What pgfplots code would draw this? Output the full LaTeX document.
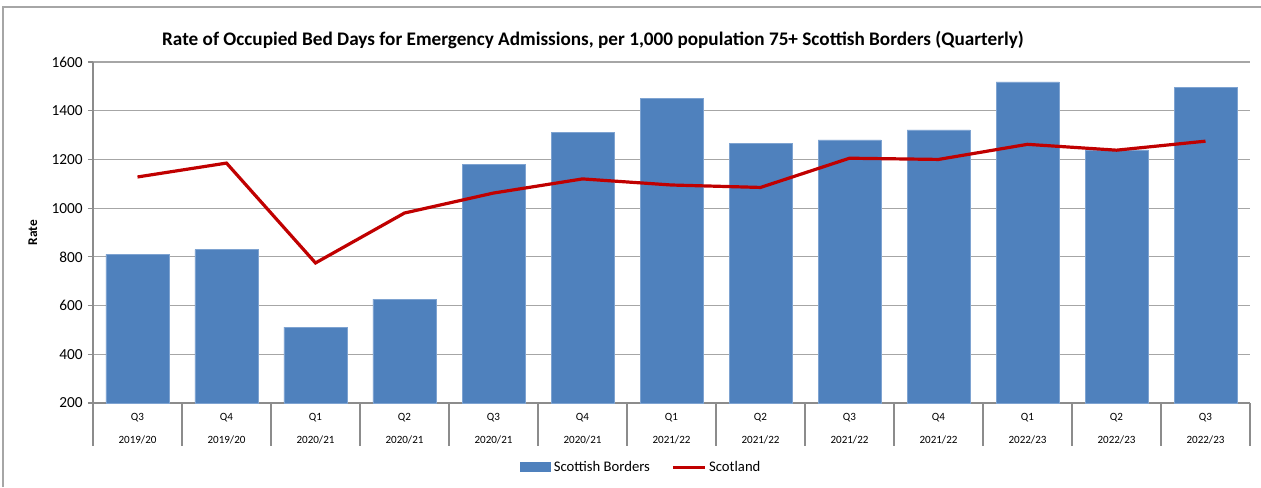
\documentclass[border=0pt]{standalone}
\usepackage{fontspec}
\setmainfont{Carlito}
\usepackage{pgfplots}
\pgfplotsset{compat=1.18}
\definecolor{sbblue}{HTML}{4F81BD}
\definecolor{sbedge}{HTML}{7EA3D1}
\definecolor{scred}{HTML}{C00000}
\definecolor{gridgray}{HTML}{A6A6A6}
\definecolor{axgray}{HTML}{8C8C8C}

\begin{document}
\begin{tikzpicture}
% whole chart area, 1px = 0.75pt, origin at lower left of the plot box
\path[use as bounding box] (-69.75pt,-63pt) rectangle (876pt,302.25pt);
\draw[gridgray, line width=0.9pt] (-67.5pt,-63pt) -- (-67.5pt,297pt) -- (876pt,297pt);

\begin{axis}[
  at={(0,0)}, anchor=south west,
  scale only axis,
  width=867.75pt, height=255.75pt,
  xmin=-0.5, xmax=12.5,
  ymin=200, ymax=1600,
  ytick={200,400,...,1600},
  % ticks sit on the category borders, labels are moved to the centres
  xtick={-0.5,0.5,...,12.5},
  xticklabels={Q3\\2019/20, Q4\\2019/20, Q1\\2020/21, Q2\\2020/21, Q3\\2020/21,
    Q4\\2020/21, Q1\\2021/22, Q2\\2021/22, Q3\\2021/22, Q4\\2021/22,
    Q1\\2022/23, Q2\\2022/23, Q3\\2022/23, {}},
  xticklabel style={align=center, font=\fontsize{8.3}{17.25}\selectfont, xshift=33.375pt},
  tick align=outside,
  x tick style={draw=axgray, line width=0.9pt, /pgfplots/major tick length=32pt},
  y tick style={draw=axgray, line width=0.9pt, /pgfplots/major tick length=3.75pt},
  yticklabel style={font=\fontsize{11.5}{13}\selectfont},
  /pgf/number format/assume math mode=true,
  /pgf/number format/1000 sep={},
  ymajorgrids,
  grid style={gridgray, line width=0.9pt},
  axis x line*=bottom, axis y line*=left,
  axis line style={draw=axgray, line width=0.9pt, -},
  ylabel={\bfseries Rate},
  ylabel style={font=\fontsize{10}{12}\selectfont, at={(axis description cs:-0.052,0.5)}, anchor=center},
  legend columns=2,
  legend style={at={(0.474,-0.188)}, anchor=center, draw=none, fill=none,
    font=\fontsize{11}{13}\selectfont,
    /tikz/every even column/.append style={column sep=14pt}},
  clip=true,
]
\addplot[ybar, bar width=47.25pt, fill=sbblue, draw=sbedge, line width=0.6pt,
  legend image code/.code={\draw[fill=sbblue, draw=sbblue] (0pt,-3.4pt) rectangle (23pt,3.4pt);}]
  coordinates {(0,810) (1,830) (2,512) (3,627) (4,1178) (5,1309) (6,1450)
    (7,1264) (8,1280) (9,1321) (10,1518) (11,1239) (12,1494)};
\addlegendentry{Scottish Borders}
\addplot[scred, line width=2.4pt, mark=none,
  legend image code/.code={\draw[scred, line width=2.4pt] (0pt,0pt) -- (24pt,0pt);}]
  coordinates {(0,1128) (1,1185) (2,775) (3,980) (4,1062) (5,1120) (6,1095)
    (7,1085) (8,1205) (9,1200) (10,1262) (11,1238) (12,1275)};
\addlegendentry{Scotland}
\end{axis}

\node[font=\bfseries\fontsize{14.4}{17}\selectfont] at (375pt,272.25pt)
  {Rate of Occupied Bed Days for Emergency Admissions, per 1,000 population 75+ Scottish Borders (Quarterly)};
\end{tikzpicture}
\end{document}
